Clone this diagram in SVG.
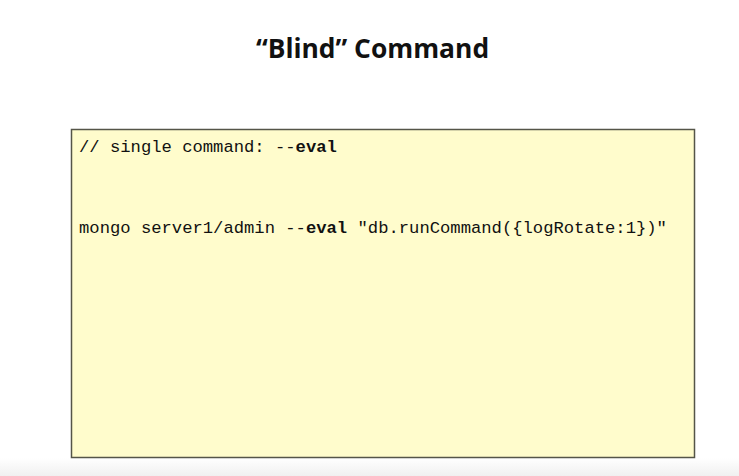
<svg xmlns="http://www.w3.org/2000/svg" width="739" height="476" viewBox="0 0 739 476">
<defs>
<linearGradient id="bot" x1="0" y1="0" x2="0" y2="1">
<stop offset="0" stop-color="#ffffff"/>
<stop offset="1" stop-color="#f0f0f0"/>
</linearGradient>
<style>
.title{font-family:"Open Sans","Liberation Sans",sans-serif;font-weight:bold;font-size:26.4px;fill:#111;}
.code{font-family:"Liberation Mono","DejaVu Sans Mono",monospace;font-size:17.2px;fill:#111;}
.b{font-weight:bold;}
.box{fill:#fffccc;stroke:#555548;stroke-width:1.5;}
</style>
</defs>
<rect x="0" y="0" width="739" height="476" fill="#ffffff"/>
<rect x="0" y="458" width="739" height="18" fill="url(#bot)"/>
<g id="title">
<text class="title" x="372.5" y="58" text-anchor="middle">“Blind” Command</text>
</g>
<g id="codebox">
<rect class="box" x="71.5" y="129.5" width="623" height="328"/>
<text class="code" x="79" y="152">// single command: --<tspan class="b">eval</tspan></text>
<text class="code" x="79" y="233">mongo server1/admin --<tspan class="b">eval</tspan> "db.runCommand({logRotate:1})"</text>
</g>
<g id="connectors"/>
</svg>
